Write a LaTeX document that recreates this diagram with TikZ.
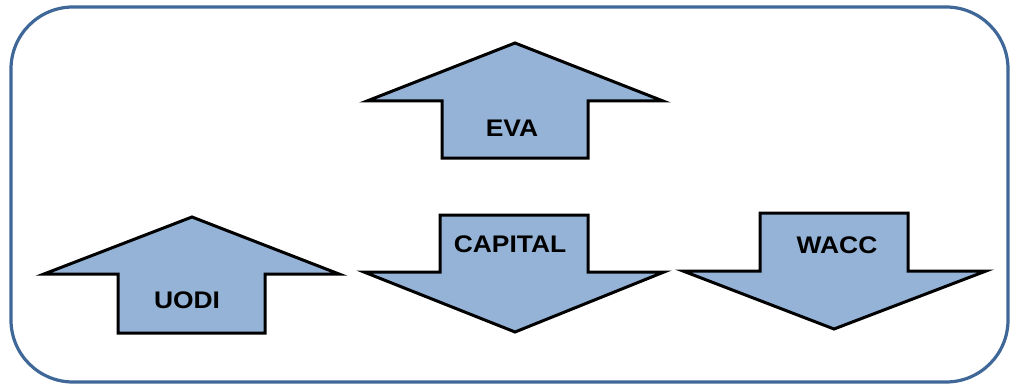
\documentclass[tikz,border=0pt]{standalone}
\usepackage{fontspec}
\setmainfont{Liberation Sans}
\usepackage{tikz}
\usetikzlibrary{positioning}
\definecolor{arrowfill}{HTML}{95B3D7}
\definecolor{framecol}{HTML}{3F6797}

\begin{document}
\begin{tikzpicture}[
    x=1pt, y=-1pt,
    boxframe/.style={draw=framecol, line width=3.2pt, rounded corners=62pt},
    bigarrow/.style={draw=black, fill=arrowfill, line width=3pt, line join=miter},
    arrowlabel/.style={font=\fontsize{24}{28}\selectfont\bfseries, xscale=1.1, inner sep=0pt}
]
    \useasboundingbox (0,0) rectangle (1011,385);
    \draw[boxframe] (11,7) rectangle (1008,382);

    % up arrows
    \draw[bigarrow] (515,43) -- (663,101) -- (588,101) -- (588,158) -- (442,158)
        -- (442,101) -- (367,101) -- cycle;
    \draw[bigarrow] (192,217) -- (339,274) -- (265,274) -- (265,333) -- (118,333)
        -- (118,274) -- (44,274) -- cycle;
    % down arrows
    \draw[bigarrow] (440,215) -- (588,215) -- (588,272) -- (664,272) -- (515,332)
        -- (364,272) -- (440,272) -- cycle;
    \draw[bigarrow] (760,213) -- (908,213) -- (908,271) -- (986,271) -- (834,329)
        -- (683,271) -- (760,271) -- cycle;

    \node[arrowlabel] (eva) at (512,128) {EVA};
    \node[arrowlabel] (uodi) at (187,300) {UODI};
    \node[arrowlabel] (capital) at (510,244) {CAPITAL};
    \node[arrowlabel] (wacc) at (837,245) {WACC};
\end{tikzpicture}
\end{document}
